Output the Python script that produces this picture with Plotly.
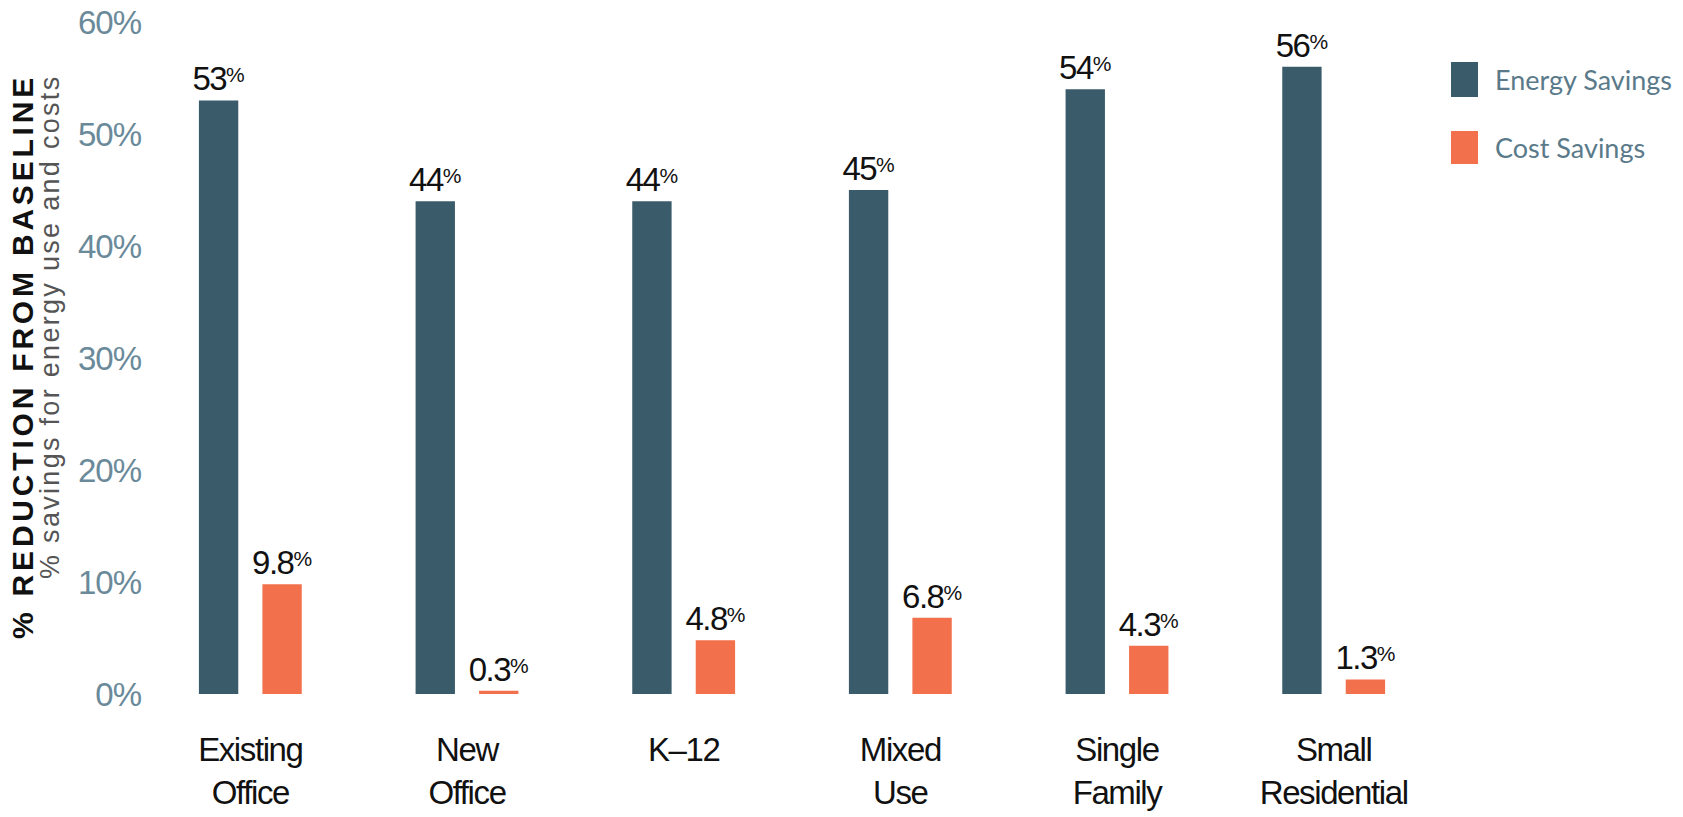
import plotly.graph_objects as go

categories = ["Existing<br>Office", "New<br>Office", "K\u201312", "Mixed<br>Use", "Single<br>Family", "Small<br>Residential"]
energy_savings = [53, 44, 44, 45, 54, 56]
cost_savings = [9.8, 0.3, 4.8, 6.8, 4.3, 1.3]
y_ticks = [0, 10, 20, 30, 40, 50, 60]
y_tick_labels = [f"{v}%" for v in y_ticks]
series_names = ["Energy Savings", "Cost Savings"]

ENERGY_COLOR = "#3A5B6A"
COST_COLOR = "#F3704C"
TICK_COLOR = "#6A8A9A"
REG = "Liberation Sans, Arial, sans-serif"

# page body has an 8px margin; figure is sized to fit the window
OFF = 8
W, H = 1683 - OFF, 817 - OFF
L, R, T, B = 134, 241, 14, 123
PW, PH = W - L - R, H - T - B


def px(x):  # screen x -> paper
    return (x - OFF - L) / PW


def py(y):  # screen y -> paper
    return (H - B - (y - OFF)) / PH


def label(v):
    return (f"<span style='letter-spacing:-1.5px'>{v:g}</span>"
            f"<span style='font-size:21px;baseline-shift:8px'>%</span>")


def cat_label(c):
    return "<br>".join(f"<span style='letter-spacing:-1.4px'>{part}</span>" for part in c.split("<br>"))


def tick_label(t):
    return f"<span style='letter-spacing:-1px'>{t}</span>"


fig = go.Figure()
fig.add_trace(go.Bar(
    x=categories, y=energy_savings, name=series_names[0],
    marker=dict(color=ENERGY_COLOR, line=dict(width=0)),
    text=[label(v) for v in energy_savings], textposition="outside",
    textfont=dict(family=REG, size=33, color="#111111"),
    cliponaxis=False, constraintext="none", showlegend=False,
))
fig.add_trace(go.Bar(
    x=categories, y=cost_savings, name=series_names[1],
    marker=dict(color=COST_COLOR, line=dict(width=0)),
    text=[label(v) for v in cost_savings], textposition="outside",
    textfont=dict(family=REG, size=33, color="#111111"),
    cliponaxis=False, constraintext="none", showlegend=False,
))

fig.update_layout(
    width=W, height=H,
    margin=dict(l=L, r=R, t=T, b=B, pad=0, autoexpand=False),
    paper_bgcolor="white", plot_bgcolor="white",
    barmode="group", bargap=0.414, bargroupgap=0.38,
    showlegend=False,
    xaxis=dict(
        tickmode="array", tickvals=categories, ticktext=[cat_label(c) for c in categories],
        showgrid=False, showline=False, zeroline=False, ticks="",
        tickfont=dict(family=REG, size=33, color="#111111"),
        ticklabelstandoff=33, automargin=False, ticklabeloverflow="allow",
    ),
    yaxis=dict(
        range=[0, 60], tickmode="array", tickvals=y_ticks,
        ticktext=[tick_label(t) for t in y_tick_labels],
        showgrid=False, showline=False, zeroline=False, ticks="",
        tickfont=dict(family=REG, size=33, color=TICK_COLOR),
        ticklabelstandoff=0, automargin=False, ticklabeloverflow="allow",
    ),
)

annotations = [
    dict(text="<span style='letter-spacing:3.8px'>% REDUCTION FROM BASELINE</span>",
         x=px(22), y=py(357), xref="paper", yref="paper", textangle=-90,
         xanchor="center", yanchor="middle", showarrow=False,
         font=dict(family=REG, size=30, color="#111111", weight="bold")),
    dict(text="<span style='letter-spacing:2.3px'>% savings for energy use and costs</span>",
         x=px(50), y=py(327), xref="paper", yref="paper", textangle=-90,
         xanchor="center", yanchor="middle", showarrow=False,
         font=dict(family=REG, size=27, color="#555555")),
]
shapes = []
legend_rows = [(62, 97, ENERGY_COLOR), (131, 164, COST_COLOR)]
for name, (y0, y1, col) in zip(series_names, legend_rows):
    shapes.append(dict(type="rect", xref="paper", yref="paper",
                       x0=px(1451), x1=px(1478), y0=py(y1), y1=py(y0),
                       fillcolor=col, line=dict(width=0)))
    annotations.append(dict(text=name,
                            x=px(1493), y=py((y0 + y1) / 2),
                            xref="paper", yref="paper", xanchor="left", yanchor="middle",
                            showarrow=False,
                            font=dict(family="Lato", size=27, color="#5A7A8A")))
fig.update_layout(annotations=annotations, shapes=shapes)

fig.write_html("out.html")
